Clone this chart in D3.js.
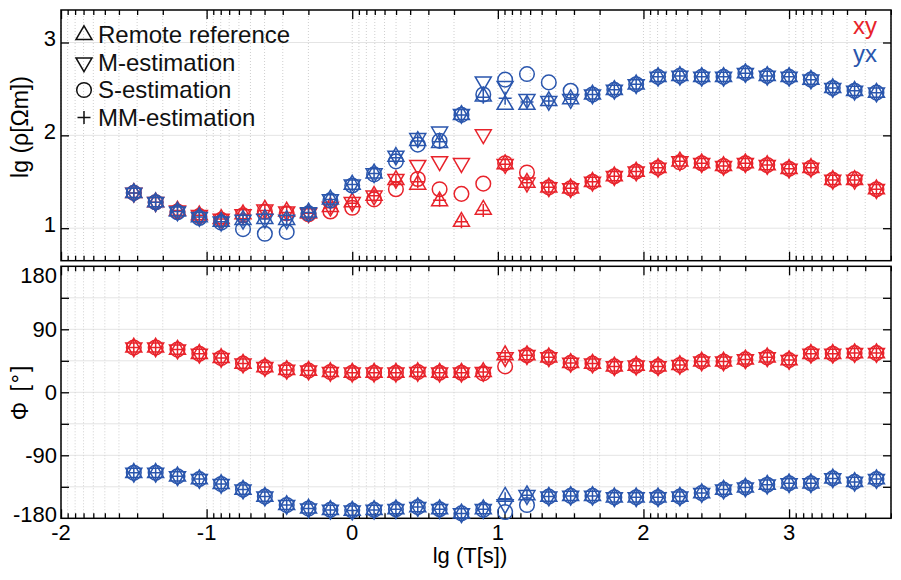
<!DOCTYPE html>
<html>
<head>
<meta charset="utf-8">
<script src="https://cdn.jsdelivr.net/npm/d3@7"></script>
<style>
  body { margin: 0; background: #fff; }
  text { font-family: "Liberation Sans", Arial, sans-serif; }
</style>
</head>
<body>
<div id="chart"></div>
<script>
// period, lg(T[s])
const lgT = [-1.5, -1.35, -1.2, -1.05, -0.9, -0.75, -0.6, -0.45, -0.3, -0.15, 0, 0.15, 0.3, 0.45, 0.6, 0.75, 0.9,
  1.05, 1.2, 1.35, 1.5, 1.65, 1.8, 1.95, 2.1, 2.25, 2.4, 2.55, 2.7, 2.85, 3.0, 3.15, 3.3, 3.45, 3.6]

// lg rho, xy component
const rhoXY_RR = [1.38, 1.28, 1.19, 1.14, 1.10, 1.15, 1.20, 1.18, 1.16, 1.23, 1.28, 1.35, 1.52, 1.47, 1.29, 1.07, 1.20,
  1.69, 1.49, 1.44, 1.43, 1.50, 1.56, 1.61, 1.65, 1.72, 1.70, 1.67, 1.70, 1.68, 1.64, 1.65, 1.52, 1.52, 1.42]
const rhoXY_M  = [1.38, 1.28, 1.19, 1.14, 1.10, 1.15, 1.20, 1.18, 1.16, 1.23, 1.28, 1.35, 1.53, 1.68, 1.72, 1.70, 2.01,
  1.69, 1.49, 1.44, 1.43, 1.50, 1.56, 1.61, 1.65, 1.72, 1.70, 1.67, 1.70, 1.68, 1.64, 1.65, 1.52, 1.52, 1.42]
const rhoXY_S  = [1.38, 1.28, 1.18, 1.13, 1.09, 1.14, 1.18, 1.16, 1.15, 1.18, 1.22, 1.31, 1.42, 1.53, 1.42, 1.37, 1.48,
  1.70, 1.60, 1.44, 1.43, 1.50, 1.56, 1.61, 1.65, 1.71, 1.70, 1.67, 1.70, 1.68, 1.64, 1.65, 1.52, 1.53, 1.42]
const rhoXY_MM = [1.38, 1.28, 1.19, 1.14, 1.10, 1.15, 1.19, 1.17, 1.16, 1.22, 1.27, 1.35, 1.50, 1.50, 1.30, 1.07, 1.19,
  1.69, 1.49, 1.44, 1.43, 1.50, 1.56, 1.61, 1.65, 1.72, 1.70, 1.67, 1.70, 1.68, 1.64, 1.65, 1.52, 1.52, 1.42]

// lg rho, yx component
const rhoYX_RR = [1.38, 1.28, 1.18, 1.12, 1.07, 1.09, 1.10, 1.09, 1.17, 1.31, 1.47, 1.59, 1.77, 1.94, 1.92, 2.22, 2.42,
  2.33, 2.33, 2.37, 2.39, 2.44, 2.49, 2.55, 2.63, 2.64, 2.63, 2.63, 2.67, 2.64, 2.63, 2.60, 2.51, 2.48, 2.46]
const rhoYX_M  = [1.38, 1.28, 1.18, 1.12, 1.07, 1.09, 1.10, 1.09, 1.17, 1.31, 1.47, 1.59, 1.78, 1.97, 2.04, 2.23, 2.58,
  2.53, 2.39, 2.37, 2.39, 2.44, 2.49, 2.55, 2.63, 2.64, 2.63, 2.63, 2.67, 2.64, 2.63, 2.60, 2.51, 2.48, 2.46]
const rhoYX_S  = [1.38, 1.28, 1.17, 1.11, 1.06, 0.99, 0.94, 0.96, 1.16, 1.30, 1.46, 1.58, 1.72, 1.90, 1.94, 2.22, 2.44,
  2.60, 2.66, 2.57, 2.48, 2.44, 2.49, 2.55, 2.63, 2.64, 2.63, 2.63, 2.67, 2.64, 2.63, 2.60, 2.51, 2.48, 2.46]
const rhoYX_MM = [1.38, 1.28, 1.18, 1.12, 1.07, 1.09, 1.10, 1.09, 1.17, 1.31, 1.47, 1.59, 1.76, 1.94, 1.93, 2.22, 2.41,
  2.40, 2.36, 2.37, 2.39, 2.44, 2.49, 2.55, 2.63, 2.64, 2.63, 2.63, 2.67, 2.64, 2.63, 2.60, 2.51, 2.48, 2.46]

// phase, xy component
const phiXY_RR = [64, 64, 61, 55, 49, 41, 36, 32, 31, 29, 28, 28, 28, 29, 28, 28, 29,
  53, 53, 50, 42, 41, 37, 38, 37, 39, 44, 44, 47, 50, 46, 55, 55, 56, 56]
const phiXY_M  = [64, 64, 61, 55, 49, 41, 36, 32, 31, 29, 28, 28, 28, 29, 28, 28, 29,
  50, 53, 50, 42, 41, 37, 38, 37, 39, 44, 44, 47, 50, 46, 55, 55, 56, 56]
const phiXY_S  = [64, 64, 61, 55, 49, 41, 36, 32, 31, 29, 28, 28, 28, 29, 28, 28, 27,
  37, 53, 50, 42, 41, 37, 38, 37, 39, 44, 44, 47, 50, 46, 55, 55, 56, 56]
const phiXY_MM = [64, 64, 61, 55, 49, 41, 36, 32, 31, 29, 28, 28, 28, 29, 28, 28, 29,
  51, 53, 50, 42, 41, 37, 38, 37, 39, 44, 44, 47, 50, 46, 55, 55, 56, 56]

// phase, yx component
const phiYX_RR = [-115, -115, -120, -124, -131, -139, -149, -161, -166, -168, -169, -168, -167, -164, -167, -173, -167,
  -149, -147, -149, -148, -148, -150, -150, -150, -149, -144, -139, -136, -132, -130, -130, -123, -128, -124]
const phiYX_M  = [-115, -115, -120, -124, -131, -139, -149, -161, -166, -168, -169, -168, -167, -164, -167, -173, -167,
  -160, -147, -149, -148, -148, -150, -150, -150, -149, -144, -139, -136, -132, -130, -130, -123, -128, -124]
const phiYX_S  = [-115, -115, -120, -124, -131, -139, -149, -161, -166, -168, -169, -168, -167, -164, -167, -173, -168,
  -171, -161, -149, -148, -148, -150, -150, -150, -149, -144, -139, -136, -132, -130, -130, -123, -128, -124]
const phiYX_MM = [-115, -115, -120, -124, -131, -139, -149, -161, -166, -168, -169, -168, -167, -164, -167, -173, -167,
  -152, -147, -149, -148, -148, -150, -150, -150, -149, -144, -139, -136, -132, -130, -130, -123, -128, -124]

const methods = ["Remote reference", "M-estimation", "S-estimation", "MM-estimation"]
const markers = ["up", "down", "circle", "plus"]
const xMajorTicks = [-2, -1, 0, 1, 2, 3]
const rhoTicks = [1, 2, 3]
const phiTicks = [-180, -90, 0, 90, 180]

const red = "#e8232b"
const blue = "#2a56ad"

const width = 901
const height = 580
const left = 61, right = 891

const x = d3.scaleLinear().domain([-2, 3.7]).range([left, right])
const yRho = d3.scaleLinear().domain([0.65, 3.35]).range([260.7, 10])
const yPhi = d3.scaleLinear().domain([-180, 180]).range([518.3, 266.3])

// minor ticks are frequency decades: n + 1 - lg(k)
const xMinorTicks = []
for (let n = -3; n <= 3; n++) {
  for (let k = 2; k <= 9; k++) {
    const v = n + 1 - Math.log10(k)
    if (v > -2 && v < 3.7) xMinorTicks.push(v)
  }
}

const svg = d3.select("#chart").append("svg")
  .attr("width", width)
  .attr("height", height)

function markerPath(type) {
  if (type === "up") return "M0,-9.2L8,4.6L-8,4.6Z"
  if (type === "down") return "M0,9.2L8,-4.6L-8,-4.6Z"
  if (type === "circle") return "M7.3,0A7.3,7.3 0 1,1 -7.3,0A7.3,7.3 0 1,1 7.3,0Z"
  return "M-6.5,0H6.5M0,-6.5V6.5"
}

function drawPanel(y, hGrid, yMinorTicks) {
  const g = svg.append("g")
  const [y0, y1] = y.range()

  // grid
  g.append("g").selectAll("line")
    .data(hGrid)
    .enter().append("line")
    .attr("x1", left).attr("x2", right)
    .attr("y1", d => y(d)).attr("y2", d => y(d))
    .style("stroke", "#e4e4e4").style("stroke-width", 1)

  g.append("g").selectAll("line")
    .data(xMajorTicks.concat(xMinorTicks))
    .enter().append("line")
    .attr("x1", d => x(d)).attr("x2", d => x(d))
    .attr("y1", y1).attr("y2", y0)
    .style("stroke", "#cfcfcf").style("stroke-width", 1)
    .style("stroke-dasharray", "1,2")

  // x ticks, pointing in on top and bottom edge
  const addXAxis = (axisFn, ypos, size, values) => {
    const a = g.append("g")
      .attr("transform", `translate(0,${ypos})`)
      .call(axisFn(x).tickValues(values).tickSizeInner(-size).tickSizeOuter(0).tickFormat(""))
    a.select(".domain").remove()
    a.selectAll("line").style("stroke", "#000").style("stroke-width", 1.3)
  }
  addXAxis(d3.axisTop, y1, 9, xMajorTicks)
  addXAxis(d3.axisTop, y1, 5, xMinorTicks)
  addXAxis(d3.axisBottom, y0, 9, xMajorTicks)
  addXAxis(d3.axisBottom, y0, 5, xMinorTicks)

  // y ticks on left and right
  const addYAxis = (axisFn, xpos, values) => {
    const a = g.append("g")
      .attr("transform", `translate(${xpos},0)`)
      .call(axisFn(y).tickValues(values).tickSizeInner(-8).tickSizeOuter(0).tickFormat(""))
    a.select(".domain").remove()
    a.selectAll("line").style("stroke", "#000").style("stroke-width", 1.3)
  }
  addYAxis(d3.axisLeft, left, yMinorTicks)
  addYAxis(d3.axisRight, right, yMinorTicks)

  // frame
  g.append("rect")
    .attr("x", left).attr("y", y1)
    .attr("width", right - left).attr("height", y0 - y1)
    .style("fill", "none").style("stroke", "#000").style("stroke-width", 1.5)

  return g
}

const topPanel = drawPanel(yRho, rhoTicks, rhoTicks)
const bottomPanel = drawPanel(yPhi, [-135, -90, -45, 0, 45, 90, 135], [-135, -90, -45, 0, 45, 90, 135])

// y tick labels
topPanel.append("g").selectAll("text")
  .data(rhoTicks)
  .enter().append("text")
  .attr("x", 56).attr("y", d => yRho(d) - 4)
  .attr("dy", "0.35em")
  .attr("text-anchor", "end")
  .style("font-size", "22px")
  .text(d => d)

const phiLabelY = { "-180": 514, "-90": 455, "0": 392, "90": 329, "180": 275 }
bottomPanel.append("g").selectAll("text")
  .data(phiTicks)
  .enter().append("text")
  .attr("x", 57).attr("y", d => phiLabelY[d])
  .attr("dy", "0.35em")
  .attr("text-anchor", "end")
  .style("font-size", "22px")
  .text(d => d)

// x tick labels
svg.append("g").selectAll("text")
  .data(xMajorTicks)
  .enter().append("text")
  .attr("x", d => x(d)).attr("y", 540)
  .attr("text-anchor", "middle")
  .style("font-size", "22px")
  .text(d => d)

// axis titles
svg.append("text")
  .attr("x", 470).attr("y", 563)
  .attr("text-anchor", "middle")
  .style("font-size", "22px")
  .text("lg (T[s])")

svg.append("text")
  .attr("transform", "translate(28,127) rotate(-90)")
  .attr("text-anchor", "middle")
  .style("font-size", "23px")
  .text("lg (ρ[Ωm])")

svg.append("text")
  .attr("transform", "translate(28,392) rotate(-90)")
  .attr("text-anchor", "middle")
  .style("font-size", "23px")
  .style("letter-spacing", "2px")
  .text("Φ [°]")

// data markers
function drawSeries(panel, y, series, color) {
  series.forEach((vals, m) => {
    panel.append("g").selectAll("path")
      .data(vals)
      .enter().append("path")
      .attr("d", markerPath(markers[m]))
      .attr("transform", (d, i) => `translate(${x(lgT[i])},${y(d)})`)
      .style("fill", "none")
      .style("stroke", color)
      .style("stroke-width", 1.5)
  })
}

drawSeries(topPanel, yRho, [rhoXY_RR, rhoXY_M, rhoXY_S, rhoXY_MM], red)
drawSeries(topPanel, yRho, [rhoYX_RR, rhoYX_M, rhoYX_S, rhoYX_MM], blue)
drawSeries(bottomPanel, yPhi, [phiXY_RR, phiXY_M, phiXY_S, phiXY_MM], red)
drawSeries(bottomPanel, yPhi, [phiYX_RR, phiYX_M, phiYX_S, phiYX_MM], blue)

// legend
const legend = svg.append("g")
methods.forEach((name, i) => {
  const ly = 35 + i * 27.5
  legend.append("path")
    .attr("d", markerPath(markers[i]))
    .attr("transform", `translate(84,${ly})`)
    .style("fill", "none").style("stroke", "#111").style("stroke-width", 1.5)
  legend.append("text")
    .attr("x", 98).attr("y", ly)
    .attr("dy", "0.35em")
    .style("font-size", "24px")
    .style("fill", "#111")
    .text(name)
})

svg.append("text")
  .attr("x", 877).attr("y", 34)
  .attr("text-anchor", "end")
  .style("font-size", "24px").style("fill", red)
  .text("xy")
svg.append("text")
  .attr("x", 877).attr("y", 62)
  .attr("text-anchor", "end")
  .style("font-size", "24px").style("fill", blue)
  .text("yx")
</script>
</body>
</html>
